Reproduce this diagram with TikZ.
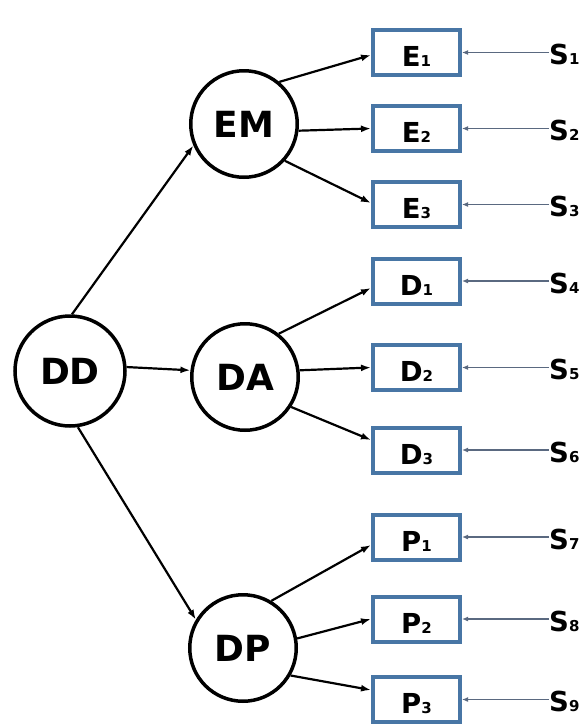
\documentclass[tikz,border=0pt]{standalone}
\usepackage{fontspec}
\setmainfont{DejaVu Sans}
\usetikzlibrary{arrows.meta}
\definecolor{boxblue}{RGB}{72,118,165}
\definecolor{sgray}{RGB}{90,105,128}
\newcommand{\sbs}[1]{{\fontsize{15}{15}\selectfont #1}}
\tikzset{
  latent/.style={circle, draw=black, line width=3.5pt, minimum size=106.5pt, inner sep=0pt,
    font=\fontsize{36}{36}\selectfont\bfseries},
  obs/.style={rectangle, draw=boxblue, line width=4pt, minimum width=87pt, minimum height=45pt,
    inner sep=0pt, font=\fontsize{27.5}{27.5}\selectfont\bfseries, text height=28pt, text depth=0pt},
  errlab/.style={inner sep=0pt, anchor=west, font=\fontsize{27.5}{27.5}\selectfont\bfseries,
    text height=24pt, text depth=0pt},
  patharrow/.style={line width=2.2pt, -{Latex[length=10pt,width=7pt]}},
  errarrow/.style={draw=sgray, line width=1.5pt, -{Latex[length=6pt,width=5pt]}}
}
\begin{document}
\begin{tikzpicture}[x=1pt,y=-1pt]
\useasboundingbox (0,0) rectangle (588,724);
% latent variables
\node[latent, minimum size=110pt] (DD) at (70,371) {DD};
\node[latent] (EM) at (244,124) {EM};
\node[latent] (DA) at (245,377) {DA};
\node[latent] (DP) at (243,648) {DP};
% observed variables
\node[obs] (E1) at (416.5,52.5) {E\sbs{1}};
\node[obs] (E2) at (416.5,128.5) {E\sbs{2}};
\node[obs] (E3) at (416.5,204.5) {E\sbs{3}};
\node[obs] (D1) at (416.5,281) {D\sbs{1}};
\node[obs] (D2) at (416.5,367.5) {D\sbs{2}};
\node[obs] (D3) at (416.5,450) {D\sbs{3}};
\node[obs] (P1) at (416.5,537) {P\sbs{1}};
\node[obs] (P2) at (416.5,619) {P\sbs{2}};
\node[obs] (P3) at (416.5,699.5) {P\sbs{3}};
% error labels
\node[errlab] (S1) at (549,52.5) {S\sbs{1}};
\node[errlab] (S2) at (549,128.5) {S\sbs{2}};
\node[errlab] (S3) at (549,204.5) {S\sbs{3}};
\node[errlab] (S4) at (549,281) {S\sbs{4}};
\node[errlab] (S5) at (549,367.5) {S\sbs{5}};
\node[errlab] (S6) at (549,450) {S\sbs{6}};
\node[errlab] (S7) at (549,537) {S\sbs{7}};
\node[errlab] (S8) at (549,619) {S\sbs{8}};
\node[errlab] (S9) at (549,699.5) {S\sbs{9}};
% structural paths
\draw[patharrow] (DD.88) -- (EM.203);
\draw[patharrow] (DD.4) -- (DA.173);
\draw[patharrow] (DD.-82) -- (DP.149);
% measurement paths
\draw[patharrow] (EM.50) -- ([yshift=-2.5pt]E1.west);
\draw[patharrow] (EM.-7) -- (E2.west);
\draw[patharrow] (EM.-42) -- ([yshift=1.5pt]E3.west);
\draw[patharrow] (DA.52) -- ([yshift=-7pt]D1.west);
\draw[patharrow] (DA.7) -- (D2.west);
\draw[patharrow] (DA.-33) -- ([yshift=10pt]D3.west);
\draw[patharrow] (DP.59) -- ([yshift=-8pt]P1.west);
\draw[patharrow] (DP.10) -- (P2.west);
\draw[patharrow] (DP.-30) -- ([yshift=9.5pt]P3.west);
% error arrows
\foreach \s/\b in {S1/E1,S2/E2,S3/E3,S4/D1,S5/D2,S6/D3,S7/P1,S8/P2,S9/P3}
  \draw[errarrow] (\s.west) -- (\b.east);
\end{tikzpicture}
\end{document}
